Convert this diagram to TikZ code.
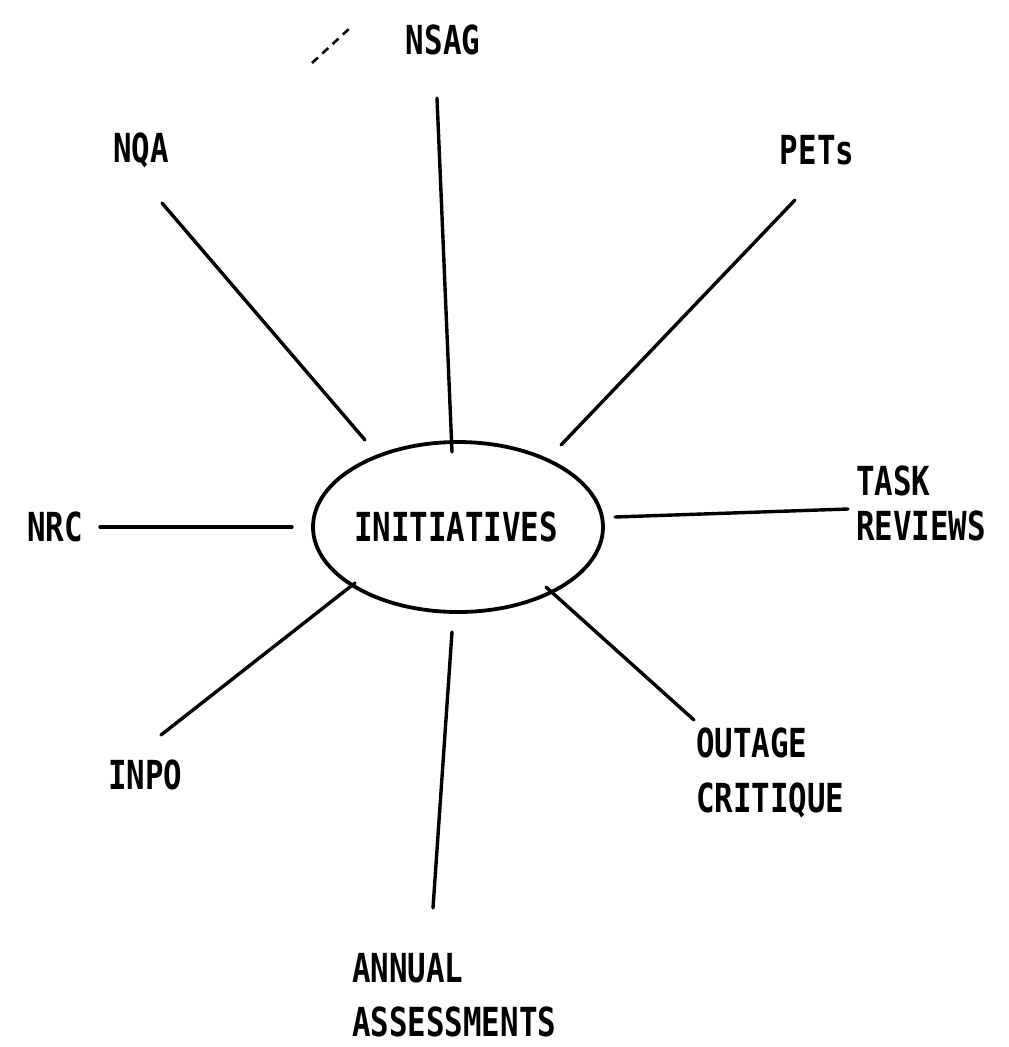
\documentclass[tikz,border=0pt]{standalone}
\usepackage{fontspec}
\newfontfamily\labelfont[FakeStretch=0.77]{DejaVu Sans Mono Bold}
\usetikzlibrary{shapes.geometric}
\begin{document}
\begin{tikzpicture}[x=1pt,y=-1pt,
  lbl/.style={font=\labelfont\fontsize{40}{48}\selectfont, inner sep=0pt},
  lblleft/.style={lbl, anchor=west, align=left},
  spoke/.style={line width=3.4pt, line cap=round},
  hub/.style={ellipse, draw, line width=3.8pt, minimum width=290pt, minimum height=170pt, inner sep=0pt}]
  \useasboundingbox (0,0) rectangle (1009,1047);

  % central ellipse
  \node[hub] (hub) at (458,527) {};
  \node[lbl] (hubtext) at (456,527) {INITIATIVES};

  % surrounding labels
  \node[lbl] (nsag) at (443,40) {NSAG};
  \node[lbl] (nqa) at (141,150) {NQA};
  \node[lbl] (pets) at (817,150) {PETs};
  \node[lbl] (nrc) at (55,527) {NRC};
  \node[lblleft] (task) at (856,481) {TASK};
  \node[lblleft] (reviews) at (856,526) {REVIEWS};
  \node[lblleft] (inpo) at (108,775) {INPO};
  \node[lblleft] (outage) at (696,743) {OUTAGE};
  \node[lblleft] (critique) at (696,800) {CRITIQUE};
  \node[lblleft] (annual) at (352,968) {ANNUAL};
  \node[lblleft] (assess) at (352,1022) {ASSESSMENTS};

  % spoke end points
  \coordinate (nsag-o) at (437,98);   \coordinate (nsag-i) at (452,452);
  \coordinate (nqa-o) at (162,203);   \coordinate (nqa-i) at (365,440);
  \coordinate (pets-o) at (795,200);  \coordinate (pets-i) at (561,445);
  \coordinate (nrc-o) at (100,527);   \coordinate (nrc-i) at (292,527);
  \coordinate (task-o) at (848,509);  \coordinate (task-i) at (615,517);
  \coordinate (inpo-o) at (161,735);  \coordinate (inpo-i) at (355,583);
  \coordinate (out-o) at (694,720);   \coordinate (out-i) at (546,587);
  \coordinate (ann-o) at (433,908);   \coordinate (ann-i) at (452,632);

  % spokes
  \draw[spoke] (nsag-o) -- (nsag-i);
  \draw[spoke] (nqa-o) -- (nqa-i);
  \draw[spoke] (pets-o) -- (pets-i);
  \draw[spoke] (nrc-o) -- (nrc-i);
  \draw[spoke] (task-o) -- (task-i);
  \draw[spoke] (inpo-o) -- (inpo-i);
  \draw[spoke] (out-o) -- (out-i);
  \draw[spoke] (ann-o) -- (ann-i);

  % short dashed stroke beside NSAG
  \coordinate (dash-a) at (312,63);
  \coordinate (dash-b) at (350,28);
  \draw[line width=2.6pt, dash pattern=on 8pt off 6pt] (dash-a) -- (dash-b);
\end{tikzpicture}
\end{document}
